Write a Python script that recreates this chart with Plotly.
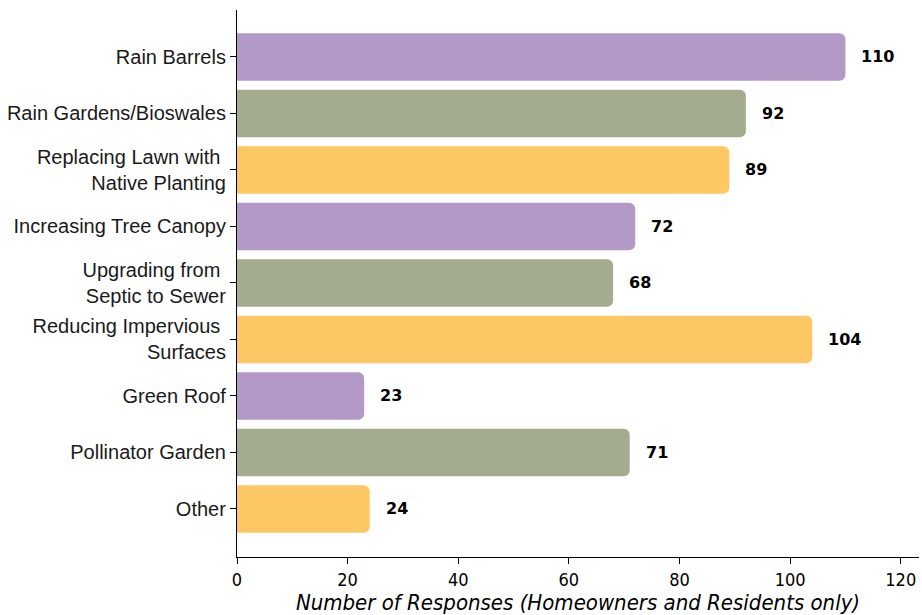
import plotly.graph_objects as go

categories = ["Rain Barrels", "Rain Gardens/Bioswales", "Replacing Lawn with\u00a0<br>Native Planting",
              "Increasing Tree Canopy", "Upgrading from\u00a0<br>Septic to Sewer",
              "Reducing Impervious\u00a0<br>Surfaces", "Green Roof", "Pollinator Garden", "Other"]
values = [110, 92, 89, 72, 68, 104, 23, 71, 24]
palette = ["#B399C8", "#A3AC8E", "#FDC864"]
colors = [palette[i % 3] for i in range(len(values))]
xticks = [0, 20, 40, 60, 80, 100, 120]

fig = go.Figure()
fig.add_trace(go.Bar(
    y=categories, x=values, orientation="h",
    marker=dict(color=colors, line=dict(width=0)),
    width=0.84, hoverinfo="skip",
))
for c, v in zip(categories, values):
    fig.add_annotation(x=v, y=c, text=f"<b>{v}</b>", showarrow=False,
                       xanchor="left", xshift=14,
                       font=dict(family="DejaVu Sans", size=16, color="black"))

fig.update_layout(
    width=922, height=615,
    margin=dict(l=237, r=3, t=10, b=58),
    plot_bgcolor="white", paper_bgcolor="white",
    barcornerradius=6,
    showlegend=False,
    xaxis=dict(range=[0, 123.3], tickvals=xticks, ticks="outside", ticklen=6, tickwidth=1.2,
               tickcolor="black", showline=True, linecolor="black", linewidth=1.2,
               showgrid=False, zeroline=False,
               tickfont=dict(family="DejaVu Sans Condensed", size=18, color="black"),
               title=dict(text="<i>Number of Responses (Homeowners and Residents only)</i>",
                          font=dict(family="DejaVu Sans Condensed", size=22, color="black"),
                          standoff=5)),
    yaxis=dict(autorange=False, range=[8.85, -0.83], categoryorder="array", categoryarray=categories,
               ticks="outside", ticklen=6, tickwidth=1.2, tickcolor="black",
               showline=True, linecolor="black", linewidth=1.2, showgrid=False, zeroline=False,
               tickfont=dict(family="Liberation Sans", size=20, color="#1a1a1a")),
)
fig.write_html("out.html")
